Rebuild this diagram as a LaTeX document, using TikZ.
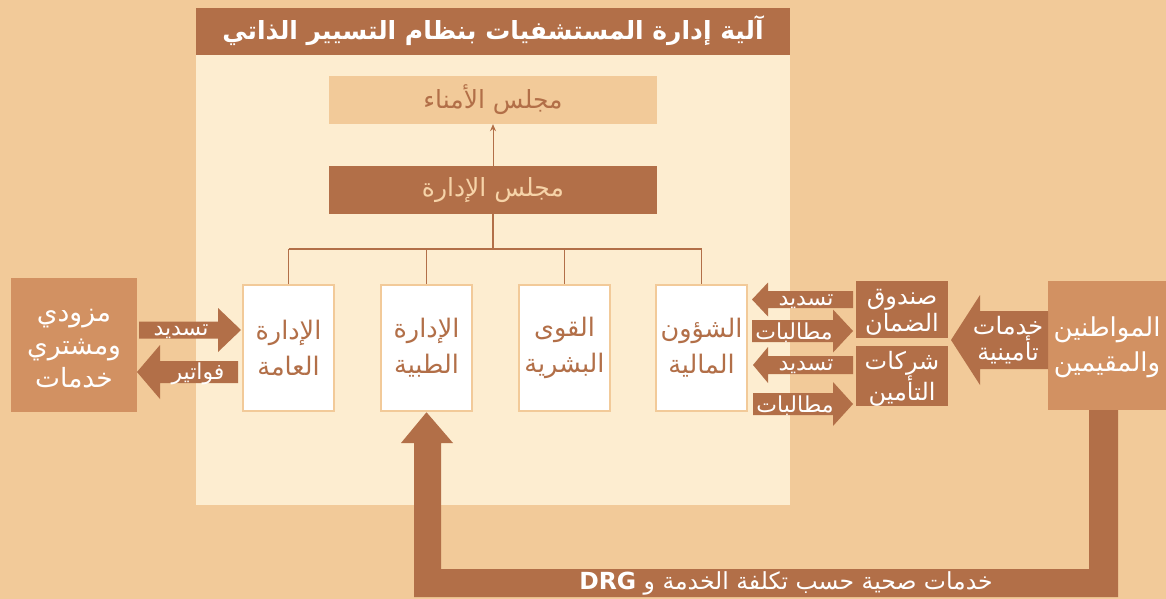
\documentclass[tikz,border=0pt]{standalone}
\usepackage{fontspec}
\TeXXeTstate=1
\newfontfamily\arabicfont[Script=Arabic]{DejaVu Sans}
\newfontfamily\latinsans{DejaVu Sans}
\usetikzlibrary{arrows.meta}

\definecolor{tanbg}{HTML}{F2CA99}
\definecolor{cream}{HTML}{FDEDD0}
\definecolor{darkbrown}{HTML}{B26F48}
\definecolor{midbrown}{HTML}{D29162}
\definecolor{paletan}{HTML}{F6D3A8}

% one right-to-left line of Arabic text
\newcommand\artext[1]{\beginR #1\endR}
% filled block arrow: tail x, head base x, tip x, centre y, half body, half head
\newcommand\blockarrow[6]{%
  \fill[darkbrown] (#1,#4-#5) -- (#2,#4-#5) -- (#2,#4-#6) -- (#3,#4)
    -- (#2,#4+#6) -- (#2,#4+#5) -- (#1,#4+#5) -- cycle;}

\tikzset{
  unitbox/.style={draw=tanbg, line width=2.5pt, fill=white, minimum width=91pt,
    minimum height=126pt, inner sep=0pt, align=center, text=darkbrown,
    font=\arabicfont\fontsize{25.5}{36}\selectfont},
  councilbox/.style={minimum width=328pt, minimum height=48pt, inner sep=0pt,
    font=\arabicfont\fontsize{25}{28}\selectfont},
  partybox/.style={inner sep=0pt, align=center, text=white},
  arrowlabel/.style={text=white, inner sep=0pt,
    font=\arabicfont\fontsize{22}{24}\selectfont},
  tree/.style={draw=darkbrown, line width=1.3pt},
}

\begin{document}
\begin{tikzpicture}[x=1pt,y=-1pt]
\useasboundingbox (0,0) rectangle (1166,599);
\fill[tanbg] (0,0) rectangle (1166,599);

% central panel and its title bar
\fill[cream] (196,55) rectangle (790,505);
\fill[darkbrown] (196,8) rectangle (790,55);
\node[text=white, inner sep=0pt, font=\arabicfont\bfseries\fontsize{25}{30}\selectfont]
  (title) at (493,31) {\artext{آلية إدارة المستشفيات بنظام التسيير الذاتي}};

% councils
\node[councilbox, fill=tanbg, text=darkbrown] (trustees) at (493,100) {\artext{مجلس الأمناء}};
\node[councilbox, fill=darkbrown, text=paletan] (board) at (493,190) {\artext{مجلس الإدارة}};
\draw[darkbrown, line width=1pt, -{Stealth[length=7pt,width=6pt]}] (board.north) -- (trustees.south);

% departments
\node[unitbox] (general) at (288.5,348) {\artext{الإدارة}\\\artext{العامة}};
\node[unitbox] (medical) at (426.5,348) {\artext{الإدارة}\\\artext{الطبية}};
\node[unitbox] (hr) at (564.5,348) {\artext{القوى}\\\artext{البشرية}};
\node[unitbox] (finance) at (701.5,348) {\artext{الشؤون}\\\artext{المالية}};

\coordinate (hub) at (493,249);
\draw[tree, line width=1.8pt] (board.south) -- (hub);
\draw[tree] (general.north |- hub) -- (finance.north |- hub);
\foreach \d in {general,medical,hr,finance}
  \draw[tree] (\d.north |- hub) -- (\d.north);

% outside parties
\node[partybox, fill=midbrown, minimum width=126pt, minimum height=134pt,
  font=\arabicfont\fontsize{26.5}{33}\selectfont, text depth=0pt]
  (providers) at (74,345) {};
\node[text=white, align=center, inner sep=0pt, font=\arabicfont\fontsize{26.5}{33}\selectfont]
  (providerstext) at (74,349) {\artext{مزودي}\\\artext{ومشتري}\\\artext{خدمات}};
\node[partybox, fill=darkbrown, minimum width=92pt, minimum height=57pt] (fund) at (902,309.5) {};
\node[text=white, align=center, inner sep=0pt, font=\arabicfont\fontsize{24}{27}\selectfont]
  (fundtext) at (902,312.5) {\artext{صندوق}\\\artext{الضمان}};
\node[partybox, fill=darkbrown, minimum width=92pt, minimum height=60pt] (insurers) at (902,376) {};
\node[text=white, align=center, inner sep=0pt, font=\arabicfont\fontsize{24}{28}\selectfont]
  (insurerstext) at (902,379) {\artext{شركات}\\\artext{التأمين}};
\node[partybox, fill=midbrown, minimum width=118pt, minimum height=129pt] (citizens) at (1107,345.5) {};
\node[text=white, align=center, inner sep=0pt, font=\arabicfont\fontsize{26}{35}\selectfont]
  (citizenstext) at (1107,347) {\artext{المواطنين}\\\artext{والمقيمين}};

% flows between providers and general administration
\blockarrow{139}{218}{241}{330}{8.5}{22}
\node[arrowlabel] (payA) at (181,332) {\artext{تسديد}};
\blockarrow{238}{160}{137}{372}{11}{27}
\node[arrowlabel] (bills) at (198,374) {\artext{فواتير}};

% flows between finance and payers
\blockarrow{853}{768}{752}{299.5}{8.5}{17}
\node[arrowlabel] (payB) at (806,301.5) {\artext{تسديد}};
\blockarrow{752}{833}{853}{331}{11}{21.5}
\node[arrowlabel] (claimA) at (794,333) {\artext{مطالبات}};
\blockarrow{853}{768}{753}{365}{9}{18}
\node[arrowlabel] (payC) at (806,367) {\artext{تسديد}};
\blockarrow{753}{833}{853}{404}{11}{22}
\node[arrowlabel] (claimB) at (795,406) {\artext{مطالبات}};

% insurance services from citizens
\blockarrow{1048}{980}{951}{340}{29}{45}
\node[arrowlabel, align=center, font=\arabicfont\fontsize{24}{25}\selectfont]
  (cover) at (1008,340.5) {\artext{خدمات}\\\artext{تأمينية}};

% health services loop back to medical administration
\fill[darkbrown] (citizens.south -| 1089,0) -- (citizens.south -| 1118,0) -- (1118,597)
  -- (414,597) -- (414,443) -- (401,443) -- (medical.south) -- (453,443)
  -- (441,443) -- (441,569) -- (1089,569) -- cycle;
\node[text=white, inner sep=0pt, font=\arabicfont\fontsize{23.5}{26}\selectfont]
  (services) at (786,583.5) {\artext{خدمات صحية حسب تكلفة الخدمة و \beginL{\latinsans\bfseries DRG}\endL}};
\end{tikzpicture}
\end{document}
